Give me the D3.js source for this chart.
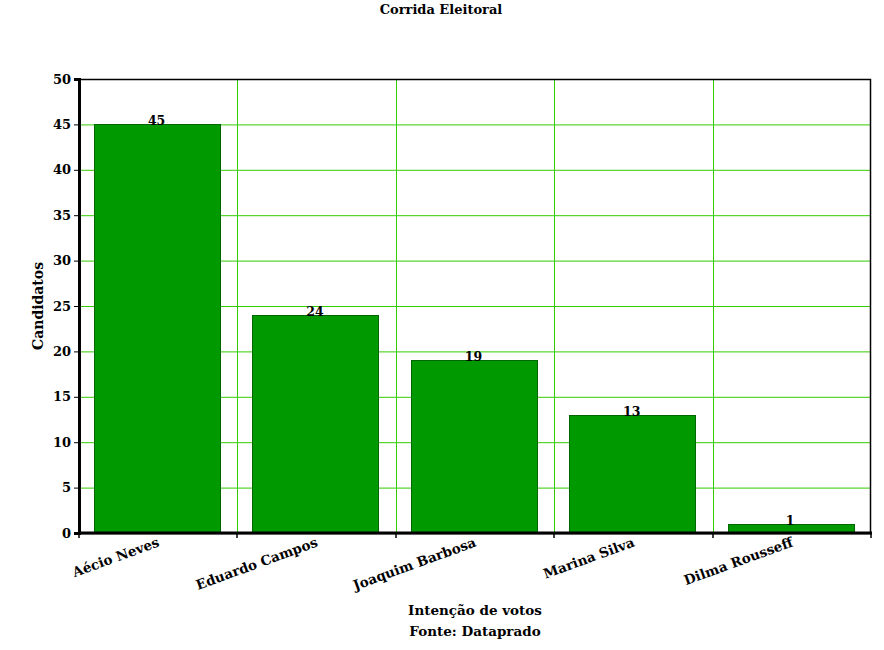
<!DOCTYPE html>
<html><head><meta charset="utf-8">
<script src="https://cdn.jsdelivr.net/npm/d3@7"></script>
<style>
body{margin:0;background:#fff;}
text{font-family:"DejaVu Serif",serif;}
</style></head>
<body><svg id="c" width="884" height="650"></svg>
<script>
const categories = ["Aécio Neves","Eduardo Campos","Joaquim Barbosa","Marina Silva","Dilma Rousseff"];
const values = [45,24,19,13,1];
const yTicks = [0,5,10,15,20,25,30,35,40,45,50];
const title = "Corrida Eleitoral";
const yTitle = "Candidatos";
const xTitle = ["Intenção de votos","Fonte: Dataprado"];

const svg = d3.select("#c");
const L=79, R=871, T=79, B=533;
const x = d3.scaleBand().domain(categories).range([L,R]).padding(0);
const y = d3.scaleLinear().domain([0,50]).range([B,T]);
const grid="#33cc00";

// grid
svg.append("g").selectAll("line").data(yTicks.filter(d=>d>0&&d<50)).join("line")
  .attr("x1",L).attr("x2",R).attr("y1",d=>y(d)+0.5).attr("y2",d=>y(d)+0.5)
  .attr("stroke",grid).attr("stroke-width",1);
svg.append("g").selectAll("line").data(categories.slice(1)).join("line")
  .attr("x1",d=>Math.round(x(d))+0.5).attr("x2",d=>Math.round(x(d))+0.5).attr("y1",T).attr("y2",B)
  .attr("stroke",grid).attr("stroke-width",1);

// bars
const step=x.step();
svg.append("g").selectAll("rect").data(values).join("rect")
  .attr("x",(d,i)=>Math.round(x(categories[i])+step*0.095)+0.5)
  .attr("width",Math.round(step*0.795))
  .attr("y",d=>Math.round(y(d))+0.5)
  .attr("height",d=>B-Math.round(y(d)))
  .attr("fill","#009900").attr("stroke","#006600").attr("stroke-width",1);

// value labels
svg.append("g").selectAll("text").data(values).join("text")
  .attr("x",(d,i)=>x(categories[i])+step*0.49)
  .attr("y",d=>y(d)+1)
  .attr("text-anchor","middle").attr("font-size",12.5).attr("font-weight","bold")
  .text(d=>d);

// frame
svg.append("rect").attr("x",L+0.5).attr("y",T+0.5).attr("width",R-L-1).attr("height",B-T)
  .attr("fill","none").attr("stroke","#000").attr("stroke-width",1.5);

// y axis
const ya = svg.append("g").attr("transform",`translate(${L},0)`)
  .call(d3.axisLeft(y).tickValues(yTicks).tickSize(5).tickPadding(3));
ya.select(".domain").attr("stroke-width",3);
ya.selectAll("text").attr("font-size",13).attr("font-weight","bold").attr("font-family","DejaVu Serif");

// x axis
const xa = svg.append("g").attr("transform",`translate(0,${B})`);
xa.append("line").attr("x1",L-1).attr("x2",R+1).attr("y1",0).attr("y2",0).attr("stroke","#000").attr("stroke-width",3);
const bounds = categories.map(c=>x(c)).concat([R]);
xa.selectAll("line.t").data(bounds).join("line").attr("class","t")
  .attr("x1",d=>Math.round(d)).attr("x2",d=>Math.round(d)).attr("y1",0).attr("y2",5)
  .attr("stroke","#000").attr("stroke-width",1.5);
xa.selectAll("text").data(categories).join("text")
  .attr("transform",d=>`translate(${x(d)+step/2+2},${13}) rotate(-20)`)
  .attr("text-anchor","end").attr("font-size",13.5).attr("font-weight","bold")
  .text(d=>d);

// titles
svg.append("text").attr("x",441).attr("y",14).attr("text-anchor","middle")
  .attr("font-size",13).attr("font-weight","bold").text(title);
svg.append("text").attr("transform",`translate(43,${(T+B)/2}) rotate(-90)`).attr("text-anchor","middle")
  .attr("font-size",14).attr("font-weight","bold").text(yTitle);
svg.selectAll("text.xt").data(xTitle).join("text").attr("class","xt")
  .attr("x",(L+R)/2).attr("y",(d,i)=>615+i*21).attr("text-anchor","middle")
  .attr("font-size",13.5).attr("font-weight","bold").text(d=>d);
</script></body></html>
